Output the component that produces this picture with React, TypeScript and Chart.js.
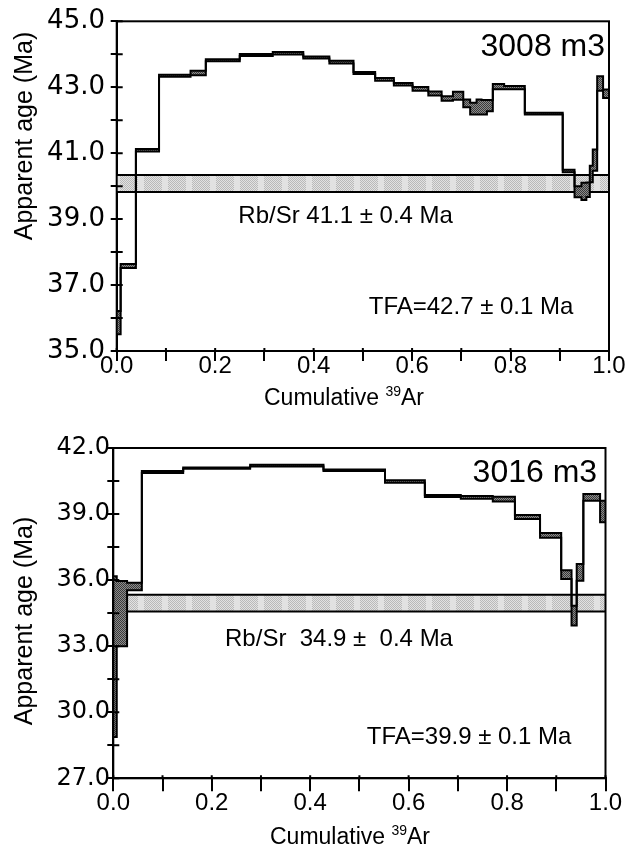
import React, { useEffect, useRef } from "react";
import { Chart, registerables } from "chart.js";

Chart.register(...registerables);

// ---------------- data: sample 3008 m3 (upper panel) ----------------
const topStepBounds = [
  0, 0.008, 0.039, 0.086, 0.15, 0.181, 0.25, 0.317, 0.379, 0.432, 0.481, 0.525,
  0.563, 0.601, 0.633, 0.66, 0.683, 0.704, 0.718, 0.731, 0.741, 0.752, 0.764,
  0.787, 0.829, 0.906, 0.93, 0.944, 0.954, 0.961, 0.967, 0.976, 0.988, 1.0,
];
const topAges = [
  35.86, 37.58, 41.09, 43.35, 43.43, 43.82, 43.98, 44.03, 43.9, 43.76, 43.43,
  43.24, 43.09, 42.95, 42.81, 42.66, 42.74, 42.51, 42.35, 42.4, 42.39, 42.44,
  43.02, 42.99, 42.2, 40.46, 39.83, 39.84, 39.89, 40.37, 40.79, 43.11, 42.8,
];
const topErrors = [
  0.35, 0.06, 0.04, 0.03, 0.07, 0.03, 0.03, 0.04, 0.03, 0.04, 0.03, 0.04, 0.04,
  0.06, 0.06, 0.07, 0.12, 0.12, 0.18, 0.23, 0.22, 0.17, 0.08, 0.05, 0.03, 0.04,
  0.17, 0.26, 0.22, 0.25, 0.32, 0.22, 0.13,
];
const topRbSrBand = [39.82, 40.34];
const topYRange = [35, 45];
const topYStep = 1;
const topYLabelStep = 2;
const topSampleLabel = "3008 m3";
const topRbSrLabel = "Rb/Sr 41.1 \u00b1 0.4 Ma";
const topTfaLabel = "TFA=42.7 \u00b1 0.1 Ma";
// label anchors in data units [x, y]
const topSampleAt = [0.992, 43.95];
const topRbSrAt = [0.247, 38.89];
const topTfaAt = [0.512, 36.11];

// ---------------- data: sample 3016 m3 (lower panel) ----------------
const botStepBounds = [
  0, 0.007, 0.028, 0.058, 0.142, 0.278, 0.427, 0.552, 0.633, 0.706, 0.771,
  0.816, 0.867, 0.91, 0.931, 0.9415, 0.955, 0.989, 1.0,
];
const botAges = [
  32.53, 34.48, 35.71, 40.91, 41.09, 41.2, 40.99, 40.48, 39.82, 39.76, 39.68,
  38.87, 38.03, 36.25, 34.39, 36.35, 39.76, 39.12,
];
const botErrors = [
  3.65, 1.48, 0.17, 0.04, 0.03, 0.04, 0.03, 0.06, 0.05, 0.06, 0.11, 0.09, 0.11,
  0.2, 0.45, 0.38, 0.15, 0.49,
];
const botRbSrBand = [34.57, 35.33];
const botYRange = [27, 42];
const botYStep = 1.5;
const botYLabelStep = 3;
const botSampleLabel = "3016 m3";
const botRbSrLabel = "Rb/Sr  34.9 \u00b1  0.4 Ma";
const botTfaLabel = "TFA=39.9 \u00b1 0.1 Ma";
const botSampleAt = [0.983, 40.45];
const botRbSrAt = [0.227, 33.01];
const botTfaAt = [0.515, 28.56];

// ---------------- shared axis data ----------------
const xRange = [0, 1];
const xTickStep = 0.1;
const xLabelStep = 0.2;
const xTitleMain = "Cumulative ";
const xTitleSup = "39";
const xTitleEnd = "Ar";
const yTitle = "Apparent age (Ma)";

const SANS = '"Liberation Sans", Arial, sans-serif';
const WIDE = '"DejaVu Sans", sans-serif';

type Panel = {
  bounds: number[];
  ages: number[];
  errs: number[];
  band: number[];
  yRange: number[];
  yStep: number;
  yLabelStep: number;
  sample: string;
  rbsr: string;
  tfa: string;
  sampleAt: number[];
  rbsrAt: number[];
  tfaAt: number[];
  // layout
  height: number;
  yAxisWidth: number;
  xAxisHeight: number;
  padTop: number;
  padRight: number;
  yTickFont: number;
  yTickPad: number;
  xTickLen: number;
  xTickPad: number;
  yTitleCenterY: number;
  xTitleCenterX: number;
  xTitleBaseline: number;
};

const panels: Panel[] = [
  {
    bounds: topStepBounds,
    ages: topAges,
    errs: topErrors,
    band: topRbSrBand,
    yRange: topYRange,
    yStep: topYStep,
    yLabelStep: topYLabelStep,
    sample: topSampleLabel,
    rbsr: topRbSrLabel,
    tfa: topTfaLabel,
    sampleAt: topSampleAt,
    rbsrAt: topRbSrAt,
    tfaAt: topTfaAt,
    height: 420,
    yAxisWidth: 116.7,
    xAxisHeight: 69,
    padTop: 18,
    padRight: 19,
    yTickFont: 26,
    yTickPad: 5.7,
    xTickLen: 10,
    xTickPad: -9,
    yTitleCenterY: 136,
    xTitleCenterX: 344,
    xTitleBaseline: 405,
  },
  {
    bounds: botStepBounds,
    ages: botAges,
    errs: botErrors,
    band: botRbSrBand,
    yRange: botYRange,
    yStep: botYStep,
    yLabelStep: botYLabelStep,
    sample: botSampleLabel,
    rbsr: botRbSrLabel,
    tfa: botTfaLabel,
    sampleAt: botSampleAt,
    rbsrAt: botRbSrAt,
    tfaAt: botTfaAt,
    height: 427,
    yAxisWidth: 113.3,
    xAxisHeight: 68.7,
    padTop: 28,
    padRight: 22.5,
    yTickFont: 24,
    yTickPad: -2.7,
    xTickLen: 13,
    xTickPad: -2.5,
    yTitleCenterY: 201,
    xTitleCenterX: 350,
    xTitleBaseline: 424,
  },
];

function stepEdge(bounds: number[], ages: number[], errs: number[], sign: number) {
  const pts: { x: number; y: number }[] = [];
  for (let i = 0; i < ages.length; i++) {
    const y = ages[i] + sign * errs[i];
    pts.push({ x: bounds[i], y });
    pts.push({ x: bounds[i + 1], y });
  }
  return pts;
}

function makeBoxPattern(): CanvasPattern | string {
  const c = document.createElement("canvas");
  c.width = 2;
  c.height = 2;
  const g = c.getContext("2d");
  if (!g) return "#666";
  g.fillStyle = "#8c8c8c";
  g.fillRect(0, 0, 2, 2);
  g.fillStyle = "#3a3a3a";
  g.fillRect(0, 0, 1, 1);
  g.fillRect(1, 1, 1, 1);
  return g.createPattern(c, "repeat") || "#666";
}

function makeBandPattern(): CanvasPattern | string {
  const c = document.createElement("canvas");
  c.width = 24;
  c.height = 2;
  const g = c.getContext("2d");
  if (!g) return "#d0d0d0";
  g.fillStyle = "#e2e2e2";
  g.fillRect(0, 0, 24, 2);
  g.fillStyle = "#b9b9b9";
  for (let x = 0; x < 18; x++) {
    for (let y = 0; y < 2; y++) {
      if ((x + y) % 2 === 0) g.fillRect(x, y, 1, 1);
    }
  }
  return g.createPattern(c, "repeat") || "#d0d0d0";
}

function isMultiple(v: number, base: number, step: number) {
  const k = (v - base) / step;
  return Math.abs(k - Math.round(k)) < 1e-6;
}

function extrasPlugin(p: Panel) {
  return {
    id: "extras",
    afterDraw(chart: any) {
      const { ctx, chartArea: a, scales } = chart;
      const xs = scales.x;
      const ys = scales.y;
      ctx.save();
      // frame
      ctx.strokeStyle = "#000";
      ctx.lineWidth = 2;
      ctx.strokeRect(a.left, a.top, a.right - a.left, a.bottom - a.top);
      // inner halves of tick marks
      ctx.beginPath();
      ys.ticks.forEach((t: any) => {
        const y = ys.getPixelForValue(t.value);
        ctx.moveTo(a.left, y);
        ctx.lineTo(a.left + 6, y);
      });
      xs.ticks.forEach((t: any) => {
        const x = xs.getPixelForValue(t.value);
        ctx.moveTo(x, a.bottom);
        ctx.lineTo(x, a.bottom - 3);
      });
      ctx.stroke();

      ctx.fillStyle = "#000";
      ctx.textBaseline = "alphabetic";
      // sample label
      ctx.font = `32px ${SANS}`;
      ctx.textAlign = "right";
      ctx.fillText(p.sample, xs.getPixelForValue(p.sampleAt[0]), ys.getPixelForValue(p.sampleAt[1]));
      // Rb/Sr and TFA labels
      ctx.font = `24px ${SANS}`;
      ctx.textAlign = "left";
      ctx.fillText(p.rbsr, xs.getPixelForValue(p.rbsrAt[0]), ys.getPixelForValue(p.rbsrAt[1]));
      ctx.fillText(p.tfa, xs.getPixelForValue(p.tfaAt[0]), ys.getPixelForValue(p.tfaAt[1]));

      // y axis title
      ctx.save();
      ctx.translate(32, p.yTitleCenterY);
      ctx.rotate(-Math.PI / 2);
      ctx.font = `25px ${SANS}`;
      ctx.textAlign = "center";
      ctx.textBaseline = "alphabetic";
      ctx.fillText(yTitle, 0, 0);
      ctx.restore();

      // x axis title with superscript
      const mainFont = `23px ${SANS}`;
      const supFont = `14px ${SANS}`;
      ctx.font = mainFont;
      const w1 = ctx.measureText(xTitleMain).width;
      const w3 = ctx.measureText(xTitleEnd).width;
      ctx.font = supFont;
      const w2 = ctx.measureText(xTitleSup).width;
      let x0 = p.xTitleCenterX - (w1 + w2 + w3) / 2;
      ctx.textAlign = "left";
      ctx.font = mainFont;
      ctx.fillText(xTitleMain, x0, p.xTitleBaseline);
      x0 += w1;
      ctx.font = supFont;
      ctx.fillText(xTitleSup, x0, p.xTitleBaseline - 9);
      x0 += w2;
      ctx.font = mainFont;
      ctx.fillText(xTitleEnd, x0, p.xTitleBaseline);
      ctx.restore();
    },
  };
}

function SpectrumPanel({ panel }: { panel: Panel }) {
  const ref = useRef<HTMLCanvasElement | null>(null);

  useEffect(() => {
    const canvas = ref.current;
    if (!canvas) return;
    const boxPat = makeBoxPattern();
    const bandPat = makeBandPattern();
    const p = panel;

    const chart = new Chart(canvas, {
      type: "line",
      data: {
        datasets: [
          {
            label: "upper",
            data: stepEdge(p.bounds, p.ages, p.errs, 1),
            borderColor: "#000",
            borderWidth: 2,
            fill: false,
            pointRadius: 0,
            tension: 0,
            borderJoinStyle: "miter",
            order: 0,
          },
          {
            label: "lower",
            data: stepEdge(p.bounds, p.ages, p.errs, -1),
            borderColor: "#000",
            borderWidth: 2,
            backgroundColor: boxPat as any,
            fill: { target: 0 },
            pointRadius: 0,
            tension: 0,
            borderJoinStyle: "miter",
            order: 1,
          },
          {
            label: "band-top",
            data: [
              { x: xRange[0], y: p.band[1] },
              { x: xRange[1], y: p.band[1] },
            ],
            borderColor: "#000",
            borderWidth: 2,
            fill: false,
            pointRadius: 0,
            order: 2,
          },
          {
            label: "band-bottom",
            data: [
              { x: xRange[0], y: p.band[0] },
              { x: xRange[1], y: p.band[0] },
            ],
            borderColor: "#000",
            borderWidth: 2,
            backgroundColor: bandPat as any,
            fill: { target: 2 },
            pointRadius: 0,
            order: 3,
          },
        ],
      },
      options: {
        animation: false,
        responsive: false,
        devicePixelRatio: 1,
        events: [],
        layout: {
          padding: { left: 0, right: p.padRight, top: p.padTop, bottom: 0 },
        },
        plugins: {
          legend: { display: false },
          tooltip: { enabled: false },
          title: { display: false },
        },
        scales: {
          x: {
            type: "linear",
            min: xRange[0],
            max: xRange[1],
            afterFit: (s: any) => {
              s.height = p.xAxisHeight;
            },
            grid: {
              drawOnChartArea: false,
              drawTicks: true,
              tickLength: p.xTickLen,
              color: "#000",
              lineWidth: 2,
            },
            border: { display: true, color: "#000", width: 2 },
            ticks: {
              stepSize: xTickStep,
              autoSkip: false,
              maxRotation: 0,
              minRotation: 0,
              padding: p.xTickPad,
              color: "#000",
              font: { family: SANS, size: 24 },
              callback: (v: any) =>
                isMultiple(Number(v), 0, xLabelStep) ? Number(v).toFixed(1) : "",
            },
          },
          y: {
            type: "linear",
            min: p.yRange[0],
            max: p.yRange[1],
            afterFit: (s: any) => {
              s.width = p.yAxisWidth;
            },
            grid: {
              drawOnChartArea: false,
              drawTicks: true,
              tickLength: 6,
              color: "#000",
              lineWidth: 2,
            },
            border: { display: true, color: "#000", width: 2 },
            ticks: {
              stepSize: p.yStep,
              autoSkip: false,
              padding: p.yTickPad,
              color: "#000",
              font: { family: WIDE, size: p.yTickFont },
              callback: (v: any) =>
                isMultiple(Number(v), p.yRange[0], p.yLabelStep) ? Number(v).toFixed(1) : "",
            },
          },
        },
      },
      plugins: [extrasPlugin(p)],
    } as any);

    return () => chart.destroy();
  }, [panel]);

  return (
    <canvas
      ref={ref}
      width={628}
      height={panel.height}
      style={{ display: "block", width: 628, height: panel.height }}
    />
  );
}

export default function App() {
  return (
    <div
      style={{
        position: "absolute",
        left: 0,
        top: 0,
        width: 628,
        height: 847,
        background: "#fff",
      }}
    >
      {panels.map((p, i) => (
        <SpectrumPanel key={i} panel={p} />
      ))}
    </div>
  );
}
